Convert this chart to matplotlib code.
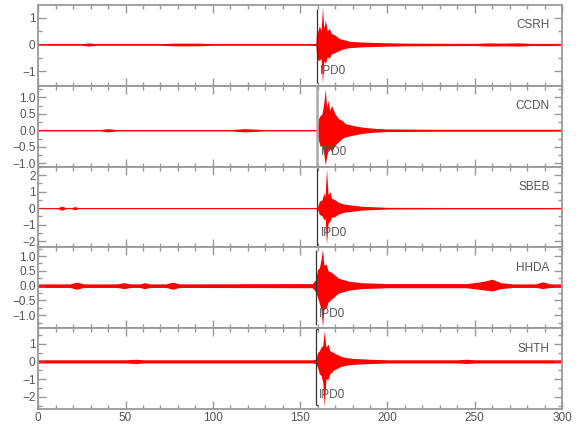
import numpy as np
import matplotlib
matplotlib.use("Agg")
import matplotlib.pyplot as plt
from matplotlib.ticker import MultipleLocator

plt.rcParams['font.family'] = ['Liberation Sans Narrow', 'Liberation Sans', 'DejaVu Sans']

# station traces, given as envelope knots (time s, upper, lower)
stations = ["CSRH", "CCDN", "SBEB", "HHDA", "SHTH"]

csrh_t = [0, 25, 29, 33, 70, 78, 92, 100, 155, 159, 159.4, 160, 161, 162, 162.8, 163.5, 164.5, 165.5,
          166.6, 168, 170, 172.4, 175, 178, 185, 195, 210, 250, 258, 265, 275, 282, 300]
csrh_hi = [0.03, 0.03, 0.06, 0.03, 0.03, 0.05, 0.05, 0.03, 0.03, 0.04, 0.5, 0.45, 0.7, 0.5, 1.39, 0.6,
           0.9, 0.5, 0.6, 0.4, 0.35, 0.22, 0.18, 0.12, 0.09, 0.07, 0.05, 0.04, 0.06, 0.05, 0.06, 0.04, 0.04]
csrh_lo = [-0.03, -0.03, -0.06, -0.03, -0.03, -0.05, -0.05, -0.03, -0.03, -0.04, -0.4, -0.55, -0.6, -0.5,
           -1.46, -0.6, -0.7, -0.45, -0.52, -0.35, -0.3, -0.22, -0.16, -0.12, -0.09, -0.07, -0.05, -0.04,
           -0.06, -0.05, -0.06, -0.04, -0.04]

ccdn_t = [0, 35, 40, 45, 110, 118, 130, 158, 159.6, 160.5, 161.5, 162.5, 163.5, 164.4, 165.2, 166, 167,
          168, 170, 172, 174, 176, 180, 185, 192, 200, 230, 300]
ccdn_hi = [0.02, 0.02, 0.05, 0.02, 0.02, 0.05, 0.02, 0.02, 0.03, 0.35, 0.45, 0.5, 0.8, 1.25, 0.7, 0.9,
           0.6, 0.75, 0.5, 0.35, 0.3, 0.2, 0.15, 0.1, 0.06, 0.04, 0.03, 0.03]
ccdn_lo = [-0.02, -0.02, -0.05, -0.02, -0.02, -0.05, -0.02, -0.02, -0.03, -0.3, -0.5, -0.45, -0.7, -1.05,
           -0.8, -0.6, -0.55, -0.65, -0.45, -0.35, -0.25, -0.2, -0.15, -0.1, -0.06, -0.04, -0.03, -0.03]

sbeb_t = [0, 11, 13.4, 16, 19, 21, 23, 100, 158, 159.9, 161, 162.5, 163.5, 164.3, 165.1, 166, 167, 168,
          170, 172, 175, 180, 185, 195, 200, 240, 300]
sbeb_hi = [0.03, 0.03, 0.12, 0.03, 0.03, 0.1, 0.03, 0.03, 0.03, 0.05, 0.42, 0.5, 0.9, 0.7, 2.38, 0.8,
           1.0, 0.6, 0.5, 0.35, 0.25, 0.18, 0.12, 0.07, 0.05, 0.04, 0.04]
sbeb_lo = [-0.03, -0.03, -0.12, -0.03, -0.03, -0.1, -0.03, -0.03, -0.03, -0.05, -0.38, -0.45, -0.7,
           -0.6, -2.17, -0.9, -0.8, -0.55, -0.5, -0.35, -0.25, -0.18, -0.12, -0.07, -0.05, -0.04, -0.04]

hhda_t = [0, 18, 22, 26, 45, 49, 53, 58, 61, 64, 73, 77, 81, 157, 158.8, 160, 161, 162, 162.8, 163.6,
          165, 166, 168, 170, 172, 178, 185, 200, 245, 252, 256, 260, 265, 272, 285, 289, 293, 300]
hhda_hi = [0.06, 0.06, 0.12, 0.06, 0.06, 0.1, 0.06, 0.06, 0.1, 0.06, 0.06, 0.12, 0.06, 0.07, 0.2, 0.55,
           0.6, 0.9, 1.23, 0.7, 0.72, 0.5, 0.45, 0.35, 0.25, 0.15, 0.1, 0.07, 0.07, 0.12, 0.16, 0.22, 0.1,
           0.06, 0.06, 0.13, 0.06, 0.06]
hhda_lo = [-0.06, -0.06, -0.12, -0.06, -0.06, -0.1, -0.06, -0.06, -0.1, -0.06, -0.06, -0.12, -0.06,
           -0.07, -0.2, -0.4, -0.6, -0.8, -1.39, -0.8, -0.75, -0.55, -0.45, -0.35, -0.25, -0.15, -0.1,
           -0.07, -0.07, -0.12, -0.15, -0.18, -0.1, -0.06, -0.06, -0.1, -0.06, -0.06]

shth_t = [0, 50, 56, 60, 157, 159, 160, 161, 162, 163, 163.8, 164.8, 166, 167, 169, 171, 173, 176,
          180, 190, 200, 240, 245, 250, 300]
shth_hi = [0.09, 0.09, 0.12, 0.09, 0.09, 0.12, 0.5, 0.6, 0.8, 0.9, 1.72, 0.8, 0.97, 0.6, 0.5, 0.4,
           0.3, 0.22, 0.17, 0.12, 0.09, 0.09, 0.12, 0.09, 0.09]
shth_lo = [-0.09, -0.09, -0.12, -0.09, -0.09, -0.12, -0.35, -0.7, -0.8, -1.2, -2.54, -1.0, -1.0, -0.7,
           -0.5, -0.4, -0.3, -0.22, -0.17, -0.12, -0.09, -0.09, -0.12, -0.09, -0.09]

traces_t = [csrh_t, ccdn_t, sbeb_t, hhda_t, shth_t]
traces_hi = [csrh_hi, ccdn_hi, sbeb_hi, hhda_hi, shth_hi]
traces_lo = [csrh_lo, ccdn_lo, sbeb_lo, hhda_lo, shth_lo]

# P picks
pick_label = "IPD0"
pick_time = [159.4, 159.6, 159.9, 158.8, 159.0]
pick_top = [1.31, 1.35, 2.45, 1.19, 1.82]
pick_bot = [-1.42, -1.1, -2.28, -1.33, -2.48]

ylims = [(-1.53, 1.47), (-1.1, 1.35), (-2.37, 2.51), (-1.44, 1.29), (-2.69, 1.86)]
ymajor = [1, 0.5, 1, 0.5, 1]
yminor = [0.5, 0.25, 0.5, 0.25, 0.5]
yfmt = ["{:.0f}", "{:.1f}", "{:.0f}", "{:.1f}", "{:.0f}"]

grey = "#999999"
txt = "#555555"

fig, axes = plt.subplots(5, 1, figsize=(5.8, 4.4), dpi=100, sharex=True)
fig.subplots_adjust(left=0.066, right=0.969, top=0.989, bottom=0.070, hspace=0)

for i, ax in enumerate(axes):
    t = np.array(traces_t[i])
    ax.fill_between(t, traces_lo[i], traces_hi[i], color="red", lw=0)
    ax.plot(t, np.zeros_like(t), color="red", lw=0.6)

    lw = 1.8 if i == 1 else 0.9
    col = "#aaaaaa" if i == 1 else "#333333"
    ax.vlines(pick_time[i], pick_bot[i], pick_top[i], color=col, lw=lw)
    if i == 4:
        ax.hlines([pick_bot[i], pick_top[i]], pick_time[i], pick_time[i] + 1.2, color=col, lw=lw)
    ax.text(pick_time[i] + 2.0, 0.18, pick_label, transform=ax.get_xaxis_transform(),
            ha="left", va="center", fontsize=8.5, color=txt)
    ax.text(0.976, 0.75, stations[i], transform=ax.transAxes, ha="right", va="center",
            fontsize=8.5, color=txt)

    ax.set_xlim(0, 300)
    ax.set_ylim(*ylims[i])
    ax.xaxis.set_major_locator(MultipleLocator(50))
    ax.xaxis.set_minor_locator(MultipleLocator(10))
    ax.yaxis.set_major_locator(MultipleLocator(ymajor[i]))
    ax.yaxis.set_minor_locator(MultipleLocator(yminor[i]))
    f = yfmt[i]
    ax.yaxis.set_major_formatter(plt.FuncFormatter(lambda v, p, f=f: f.format(v).replace("-", "\u2212")))
    ax.tick_params(which="both", direction="in", top=True, right=True, color=grey,
                   labelcolor=txt, labelsize=8.5, width=1, pad=2)
    ax.tick_params(which="major", length=6)
    ax.tick_params(which="minor", length=3)
    for s in ax.spines.values():
        s.set_color(grey)
        s.set_linewidth(1.3)

plt.savefig("out.png", dpi=100)
